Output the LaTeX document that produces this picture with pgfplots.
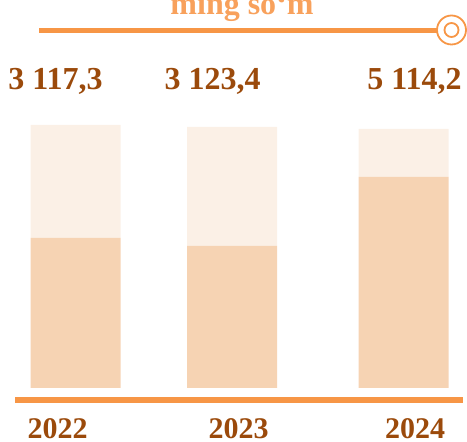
\documentclass[border=0pt]{standalone}
\usepackage{fontspec}
\setmainfont{Liberation Serif}
\usepackage{pgfplots}
\pgfplotsset{compat=1.18}
\definecolor{barlow}{HTML}{F6D3B3}
\definecolor{barup}{HTML}{FBF0E6}
\definecolor{lineor}{HTML}{F79646}
\definecolor{titleor}{HTML}{F8A15C}
\definecolor{txtbr}{HTML}{9B4A0B}
\begin{document}
\begin{tikzpicture}
\begin{axis}[
  scale only axis, width=467bp, height=442bp,
  xmin=0, xmax=467, ymin=-54, ymax=388,
  hide axis, clip=false,
  ybar stacked, bar width=90,
]
\addplot[fill=barlow, draw=none] coordinates {(75.5,150) (232,142) (403.5,211)};
\addplot[fill=barup, draw=none] coordinates {(75.5,113) (232,119) (403.5,48)};
\end{axis}
\begin{axis}[
  scale only axis, width=467bp, height=442bp,
  xmin=0, xmax=467, ymin=-54, ymax=388,
  hide axis, clip=false,
]
% bottom baseline
\addplot[lineor, line width=6bp, forget plot] coordinates {(15,-12) (463,-12)};
% top line
\addplot[lineor, line width=5bp, forget plot] coordinates {(39,357) (437,357)};
% circle marker at end
\addplot[lineor, line width=1.8bp, only marks, mark=o, mark size=14.5bp, forget plot] coordinates {(451.5,358)};
\addplot[lineor, line width=1.8bp, only marks, mark=o, mark size=7bp, forget plot] coordinates {(451.5,358)};
\node[anchor=base, text=titleor, font=\fontsize{32bp}{38bp}\selectfont\bfseries] at (axis cs:242,373) {ming so‘m};
\node[anchor=base, text=txtbr, font=\fontsize{32bp}{38bp}\selectfont\bfseries] at (axis cs:55.5,298) {3 117,3};
\node[anchor=base, text=txtbr, font=\fontsize{32bp}{38bp}\selectfont\bfseries] at (axis cs:212.5,298) {3 123,4};
\node[anchor=base, text=txtbr, font=\fontsize{32bp}{38bp}\selectfont\bfseries] at (axis cs:414.5,298) {5 114,2};
\node[anchor=base, inner sep=0pt, text depth=0pt, text=txtbr, font=\fontsize{30bp}{36bp}\selectfont\bfseries] at (axis cs:57.5,-50) {2022};
\node[anchor=base, inner sep=0pt, text depth=0pt, text=txtbr, font=\fontsize{30bp}{36bp}\selectfont\bfseries] at (axis cs:238.5,-50) {2023};
\node[anchor=base, inner sep=0pt, text depth=0pt, text=txtbr, font=\fontsize{30bp}{36bp}\selectfont\bfseries] at (axis cs:415,-50) {2024};
\coordinate (bl) at (axis cs:0,-54);
\coordinate (tr) at (axis cs:467,388);
\end{axis}
\pgfresetboundingbox
\useasboundingbox (bl) rectangle (tr);
\end{tikzpicture}
\end{document}
